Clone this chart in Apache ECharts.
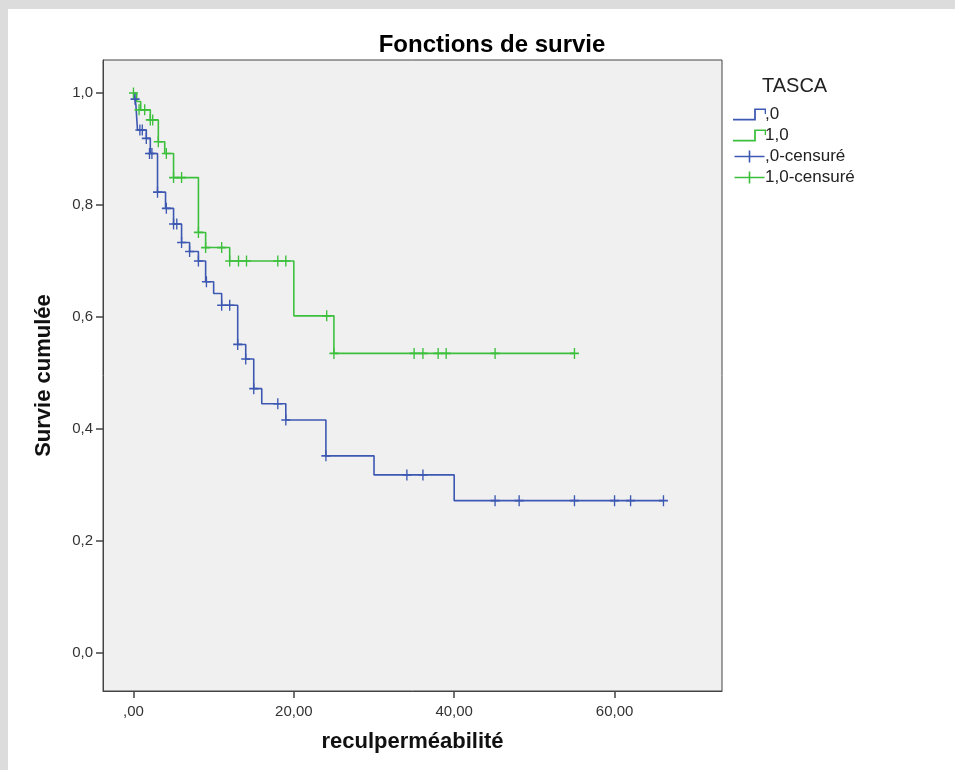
<!DOCTYPE html>
<html>
<head>
<meta charset="utf-8">
<script src="https://cdn.jsdelivr.net/npm/echarts@6/dist/echarts.min.js"></script>
<style>
  html, body { margin: 0; padding: 0; background: #ffffff; }
  #chart { width: 955px; height: 770px; }
</style>
</head>
<body>
<div id="chart"></div>
<script>
// ---- Data ----
const titleText = 'Fonctions de survie';
const xAxisTitle = 'reculperméabilité';
const yAxisTitle = 'Survie cumulée';
const legendTitle = 'TASCA';
const seriesNames = [',0', '1,0', ',0-censuré', '1,0-censuré'];

const xTicks = [0, 20, 40, 60];
const yTicks = [0, 0.2, 0.4, 0.6, 0.8, 1.0];

// TASCA = 0 : step curve (time, cumulative survival)
const timesTasca0 = [0, 0.2, 0.3, 0.5, 1.6, 2.1, 3.0, 4.0, 5.0, 6.0, 7.0, 8.1, 9.0, 10.0, 11.0, 13.0, 14.0, 15.0, 16.0, 19.0, 24.0, 30.0, 40.0, 66.0];
const survTasca0  = [1.0, 0.989, 0.979, 0.934, 0.919, 0.892, 0.823, 0.794, 0.766, 0.733, 0.717, 0.700, 0.663, 0.642, 0.621, 0.551, 0.525, 0.472, 0.445, 0.416, 0.352, 0.318, 0.272, 0.272];
// TASCA = 0 : censored observations
const censTimesTasca0 = [0.2, 0.8, 1.1, 1.6, 2.0, 2.3, 3.0, 4.1, 5.0, 5.4, 6.0, 7.0, 8.1, 9.1, 11.0, 12.0, 13.0, 14.0, 15.0, 18.0, 19.0, 24.0, 34.1, 36.1, 45.1, 48.1, 55.0, 60.0, 62.0, 66.1];
const censSurvTasca0  = [0.989, 0.934, 0.934, 0.919, 0.892, 0.892, 0.823, 0.794, 0.766, 0.766, 0.733, 0.717, 0.700, 0.663, 0.621, 0.621, 0.551, 0.525, 0.472, 0.445, 0.416, 0.352, 0.318, 0.318, 0.272, 0.272, 0.272, 0.272, 0.272, 0.272];

// TASCA = 1 : step curve
const timesTasca1 = [0, 0.4, 0.9, 2.1, 3.1, 3.9, 5.0, 8.1, 9.0, 12.0, 20.0, 25.0, 55.0];
const survTasca1  = [1.0, 0.985, 0.970, 0.952, 0.913, 0.892, 0.849, 0.751, 0.724, 0.700, 0.602, 0.535, 0.535];
// TASCA = 1 : censored observations
const censTimesTasca1 = [0, 0.7, 1.4, 2.1, 2.4, 3.1, 4.1, 5.0, 6.0, 8.1, 9.0, 11.0, 12.0, 13.1, 14.1, 18.0, 19.0, 24.1, 25.0, 35.0, 36.1, 38.0, 39.0, 45.1, 55.0];
const censSurvTasca1  = [1.0, 0.970, 0.970, 0.952, 0.952, 0.913, 0.892, 0.849, 0.849, 0.751, 0.724, 0.724, 0.700, 0.700, 0.700, 0.700, 0.700, 0.602, 0.535, 0.535, 0.535, 0.535, 0.535, 0.535, 0.535];

// ---- Styling ----
const blue = '#3d58b2';
const green = '#3cc03c';
const font = '"Liberation Sans", Arial, sans-serif';
const plusPath = 'path://M8.5,0H11.5V8.5H20V11.5H11.5V20H8.5V11.5H0V8.5H8.5Z';
const stepIcon = 'path://M0,9.2H19.2V0H30V5H28.8V1.2H20.8V10.8H0Z';
const censIcon = 'path://M0,5.2H14.2V0H15.8V5.2H30V6.8H15.8V12H14.2V6.8H0Z';

const zip = (a, b) => a.map((v, i) => [v, b[i]]);

const chart = echarts.init(document.getElementById('chart'), null, { renderer: 'canvas' });
chart.setOption({
  backgroundColor: '#ffffff',
  animation: false,
  graphic: [
    { type: 'rect', left: 0, top: 0, z: -10, shape: { width: 955, height: 9 }, style: { fill: '#dcdcdc' } },
    { type: 'rect', left: 0, top: 0, z: -10, shape: { width: 8, height: 770 }, style: { fill: '#dcdcdc' } }
  ],
  title: [
    { text: titleText, left: 487, top: 28, textAlign: 'center',
      textStyle: { fontFamily: font, fontSize: 24, fontWeight: 'bold', color: '#000' } },
    { text: legendTitle, left: 757, top: 71,
      textStyle: { fontFamily: font, fontSize: 20, fontWeight: 'normal', color: '#222' } }
  ],
  legend: {
    orient: 'vertical',
    left: 728,
    top: 101,
    itemWidth: 33,
    itemHeight: 12,
    itemGap: 4,
    textStyle: { fontFamily: font, fontSize: 17, color: '#222', padding: [0, 0, 0, -6] },
    data: [
      { name: seriesNames[0], icon: stepIcon },
      { name: seriesNames[1], icon: stepIcon },
      { name: seriesNames[2], icon: censIcon },
      { name: seriesNames[3], icon: censIcon }
    ]
  },
  grid: {
    left: 103, top: 60, right: 233, bottom: 79,
    show: true, backgroundColor: '#f0f0f0', borderColor: '#444', borderWidth: 1
  },
  xAxis: {
    type: 'value',
    min: -3.8, max: 73.4,
    name: xAxisTitle,
    nameLocation: 'middle',
    nameGap: 40,
    nameTextStyle: { fontFamily: font, fontSize: 22, fontWeight: 'bold', color: '#111' },
    axisLine: { show: true, onZero: false, lineStyle: { color: '#444', width: 1 } },
    splitLine: { show: false },
    axisTick: { show: true, length: 7, customValues: xTicks, lineStyle: { color: '#444', width: 1.5 } },
    axisLabel: {
      customValues: xTicks, margin: 13,
      fontFamily: font, fontSize: 15, color: '#333',
      formatter: v => (v === 0 ? ',00' : v.toFixed(2).replace('.', ','))
    }
  },
  yAxis: {
    type: 'value',
    min: -0.068, max: 1.059,
    name: yAxisTitle,
    nameLocation: 'middle',
    nameGap: 48,
    nameRotate: 90,
    nameTextStyle: { fontFamily: font, fontSize: 22, fontWeight: 'bold', color: '#111' },
    axisLine: { show: true, onZero: false, lineStyle: { color: '#444', width: 1 } },
    splitLine: { show: false },
    axisTick: { show: true, length: 7, customValues: yTicks, lineStyle: { color: '#444', width: 1.5 } },
    axisLabel: {
      customValues: yTicks, margin: 10,
      fontFamily: font, fontSize: 15, color: '#333',
      formatter: v => (v === 0 ? '0,0' : v.toFixed(1).replace('.', ','))
    }
  },
  series: [
    {
      name: seriesNames[1], type: 'line', step: 'end', showSymbol: false,
      data: zip(timesTasca1, survTasca1),
      lineStyle: { color: green, width: 1.6 }, itemStyle: { color: green }, z: 2
    },
    {
      name: seriesNames[0], type: 'line', step: 'end', showSymbol: false,
      data: zip(timesTasca0, survTasca0),
      lineStyle: { color: blue, width: 1.6 }, itemStyle: { color: blue }, z: 3
    },
    {
      name: seriesNames[3], type: 'scatter', symbol: plusPath, symbolSize: [9, 11],
      data: zip(censTimesTasca1, censSurvTasca1),
      itemStyle: { color: green, opacity: 1 }, z: 4
    },
    {
      name: seriesNames[2], type: 'scatter', symbol: plusPath, symbolSize: [9, 11],
      data: zip(censTimesTasca0, censSurvTasca0),
      itemStyle: { color: blue, opacity: 1 }, z: 5
    }
  ]
});
</script>
</body>
</html>
